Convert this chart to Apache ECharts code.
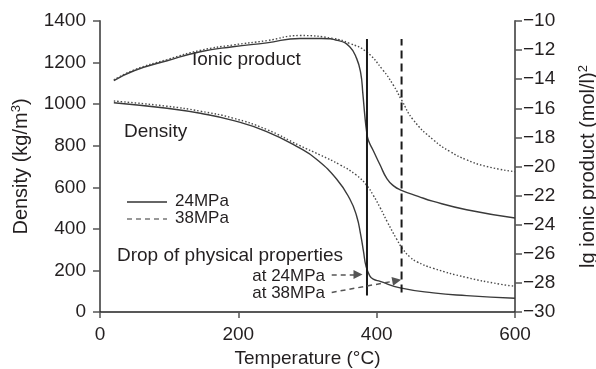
<!DOCTYPE html>
<html>
<head>
<meta charset="utf-8">
<script src="https://cdn.jsdelivr.net/npm/echarts@6/dist/echarts.min.js"></script>
<style>
  html, body { margin: 0; padding: 0; background: #fff; }
  #chart { width: 596px; height: 369px; }
</style>
</head>
<body>
<div id="chart"></div>
<script>
// density, left axis (kg/m3)
var dens24T = [20, 97, 145, 192, 241, 289, 313, 342, 361, 371, 377, 381, 384.5, 390, 395, 405, 434, 482, 530, 600];
var dens24 = [1007, 980, 956, 922, 868, 788, 735, 640, 545, 462, 370, 290, 222, 174, 158, 147, 116, 92, 79, 66];
var dens38T = [20, 97, 145, 192, 241, 289, 318, 347, 370, 385, 395, 405, 415, 429, 438, 448, 458, 482, 530, 578, 600];
var dens38 = [1015, 990, 966, 933, 878, 800, 756, 708, 660, 612, 562, 502, 436, 350, 302, 265, 242, 210, 166, 134, 124];

// lg ionic product, right axis
var ion24T = [20, 50, 97, 145, 192, 241, 289, 320, 345, 361, 371, 377, 380, 383, 385.5, 388, 395, 405, 415, 425, 434, 460, 482, 530, 600];
var ion24 = [-14.1, -13.4, -12.73, -12.11, -11.77, -11.5, -11.2, -11.2, -11.35, -11.77, -12.57, -13.6, -14.97, -16.57, -17.6, -18.2, -18.9, -19.9, -20.85, -21.35, -21.6, -22.05, -22.4, -22.97, -23.54];
var ion38T = [20, 50, 97, 145, 192, 241, 289, 337, 361, 385, 409, 424, 436, 453, 482, 506, 530, 559, 600];
var ion38 = [-14.05, -13.35, -12.65, -12.02, -11.65, -11.35, -11.0, -11.2, -11.54, -12.11, -13.37, -14.4, -15.43, -16.8, -18.17, -18.97, -19.54, -20.0, -20.36];

// drop of physical properties (vertical markers, density units)
var drop24 = [[386, 79], [386, 1314]];
var drop38 = [[436, 94], [436, 1314]];
var arrow24 = [[335, 180], [373, 180]];
var arrow38 = [[335, 94], [429, 151]];

var xTicks = [0, 200, 400, 600];

var textColor = '#231f20';
var font = 'Liberation Sans, Arial, sans-serif';

function zip(xs, ys) {
  return xs.map(function (x, i) { return [x, ys[i]]; });
}

var chart = echarts.init(document.getElementById('chart'), null, { renderer: 'canvas' });

var option = {
  animation: false,
  backgroundColor: '#fff',
  textStyle: { fontFamily: font, color: textColor },
  grid: { left: 100, right: 81, top: 21, bottom: 57, containLabel: false, outerBoundsMode: 'none' },
  xAxis: {
    type: 'value',
    min: xTicks[0],
    max: xTicks[xTicks.length - 1],
    interval: 200,
    name: 'Temperature (°C)',
    nameLocation: 'middle',
    nameGap: 37,
    nameTextStyle: { fontSize: 19, color: textColor, fontFamily: font },
    axisLine: { lineStyle: { color: '#222', width: 1.5 } },
    axisTick: { show: true, length: 6, lineStyle: { color: '#555', width: 1.5 } },
    axisLabel: { fontSize: 19, color: textColor, margin: 13, fontFamily: font },
    splitLine: { show: false }
  },
  yAxis: [
    {
      type: 'value',
      min: 0,
      max: 1400,
      interval: 200,
      name: '{n|Density (kg/m}{s|3}{n|)}',
      nameLocation: 'middle',
      nameGap: 68,
      nameRotate: 90,
      nameTextStyle: {
        rich: {
          n: { fontSize: 20, color: textColor, fontFamily: font },
          s: { fontSize: 13, color: textColor, fontFamily: font, verticalAlign: 'top', padding: [0, 0, 9, 0] }
        }
      },
      axisLine: { show: true, lineStyle: { color: '#666', width: 2 } },
      axisTick: { show: true, length: 7, lineStyle: { color: '#555', width: 1.5 } },
      axisLabel: {
        fontSize: 19, color: textColor, margin: 14, fontFamily: font,
        formatter: function (v) { return String(v); }
      },
      splitLine: { show: false }
    },
    {
      type: 'value',
      min: -30,
      max: -10,
      interval: 2,
      position: 'right',
      name: '{n|lg ionic product (mol/l)}{s|2}',
      nameLocation: 'middle',
      nameGap: 62,
      nameRotate: 90,
      nameTextStyle: {
        rich: {
          n: { fontSize: 20, color: textColor, fontFamily: font },
          s: { fontSize: 13, color: textColor, fontFamily: font, verticalAlign: 'top', padding: [0, 0, 9, 0] }
        }
      },
      axisLine: { show: true, lineStyle: { color: '#666', width: 2 } },
      axisTick: { show: true, length: 7, lineStyle: { color: '#555', width: 1.5 } },
      axisLabel: {
        fontSize: 19,
        color: textColor,
        margin: 8,
        fontFamily: font,
        formatter: function (v) { return String(v).replace('-', '\u2212'); }
      },
      splitLine: { show: false }
    }
  ],
  series: [
    {
      name: 'Density 24MPa',
      type: 'line',
      yAxisIndex: 0,
      data: zip(dens24T, dens24),
      smooth: 0.5,
      symbol: 'none',
      lineStyle: { color: '#3a3a3a', width: 1.4 }
    },
    {
      name: 'Density 38MPa',
      type: 'line',
      yAxisIndex: 0,
      data: zip(dens38T, dens38),
      smooth: 0.5,
      symbol: 'none',
      lineStyle: { color: '#4a4a4a', width: 1.4, type: [1.5, 2] }
    },
    {
      name: 'Ionic 24MPa',
      type: 'line',
      yAxisIndex: 1,
      data: zip(ion24T, ion24),
      smooth: 0.5,
      symbol: 'none',
      lineStyle: { color: '#3a3a3a', width: 1.4 }
    },
    {
      name: 'Ionic 38MPa',
      type: 'line',
      yAxisIndex: 1,
      data: zip(ion38T, ion38),
      smooth: 0.5,
      symbol: 'none',
      lineStyle: { color: '#4a4a4a', width: 1.4, type: [1.5, 2] }
    },
    {
      name: 'Drop 24MPa',
      type: 'line',
      yAxisIndex: 0,
      data: drop24,
      symbol: 'none',
      lineStyle: { color: '#1a1a1a', width: 2 },
      markLine: {
        silent: true,
        symbol: ['none', 'triangle'],
        symbolSize: 9,
        label: { show: false },
        lineStyle: { color: '#555', width: 1.5, type: [5, 4] },
        data: [
          [{ coord: arrow24[0] }, { coord: arrow24[1] }],
          [{ coord: arrow38[0] }, { coord: arrow38[1] }]
        ]
      }
    },
    {
      name: 'Drop 38MPa',
      type: 'line',
      yAxisIndex: 0,
      data: drop38,
      symbol: 'none',
      lineStyle: { color: '#1a1a1a', width: 2, type: [8, 5] }
    }
  ],
  graphic: [
    { type: 'text', left: 192, top: 50, style: { text: 'Ionic product', fontSize: 19, fontFamily: font, fill: textColor } },
    { type: 'text', left: 124, top: 122, style: { text: 'Density', fontSize: 19, fontFamily: font, fill: textColor } },
    // legend
    { type: 'line', shape: { x1: 127, y1: 202, x2: 167, y2: 202 }, style: { stroke: '#333', lineWidth: 1.3 } },
    { type: 'line', shape: { x1: 127, y1: 219, x2: 167, y2: 219 }, style: { stroke: '#777', lineWidth: 1.3, lineDash: [5, 4] } },
    { type: 'text', left: 175, top: 193, style: { text: '24MPa', fontSize: 17, fontFamily: font, fill: textColor } },
    { type: 'text', left: 175, top: 210, style: { text: '38MPa', fontSize: 17, fontFamily: font, fill: textColor } },
    // annotation
    { type: 'text', left: 117, top: 246, style: { text: 'Drop of physical properties', fontSize: 19, fontFamily: font, fill: textColor } },
    { type: 'text', right: 596 - 325, top: 268, style: { text: 'at 24MPa', fontSize: 17, fontFamily: font, fill: textColor } },
    { type: 'text', right: 596 - 325, top: 285, style: { text: 'at 38MPa', fontSize: 17, fontFamily: font, fill: textColor } }
  ]
};

chart.setOption(option);
</script>
</body>
</html>
